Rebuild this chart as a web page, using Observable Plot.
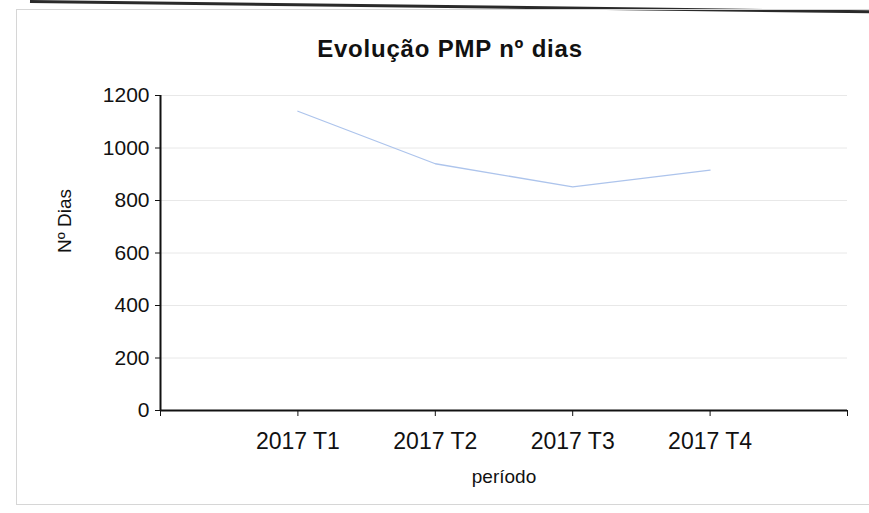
<!DOCTYPE html>
<html>
<head>
<meta charset="utf-8">
<script src="https://cdn.jsdelivr.net/npm/d3@7"></script>
<script src="https://cdn.jsdelivr.net/npm/@observablehq/plot@0.6"></script>
<style>
  html, body { margin: 0; padding: 0; background: #fff; }
  #wrap { position: relative; width: 869px; height: 513px; overflow: hidden; font-family: "Liberation Sans", Arial, sans-serif; }
  #frame { position: absolute; left: 16px; top: 9px; width: 860px; height: 494px; border: 1px solid #d6d6d6; pointer-events: none; }
  #scanedge { position: absolute; left: 30px; top: 0px; width: 850px; height: 3px; background: #2a2a2a; transform-origin: 0 0; transform: rotate(0.7deg); }
  #titlebox { position: relative; height: 78px; }
  #title { position: absolute; top: 37px; left: 450px; transform: translateX(-50%); font-size: 24px; line-height: 24px; font-weight: bold; letter-spacing: 0.8px; white-space: nowrap; color: #111; }
  svg { display: block; }
</style>
</head>
<body>
<div id="wrap">
  <div id="scanedge"></div>
  <div id="frame"></div>
  <div id="titlebox"><div id="title">Evolução PMP nº dias</div></div>
  <div id="chart"></div>
</div>
<script>
const periods = ["2017 T1", "2017 T2", "2017 T3", "2017 T4"];
const pmpDays = [1140, 940, 852, 916];
const yTicks = [0, 200, 400, 600, 800, 1000, 1200];
const xTickPositions = [0, 1, 2, 3, 4, 5];

const data = periods.map((p, k) => ({pos: k + 1, period: p, days: pmpDays[k]}));

const chart = Plot.plot({
  width: 869,
  height: 435,
  marginLeft: 160,
  marginRight: 22,
  marginTop: 17,
  marginBottom: 103,
  style: {fontFamily: "'Liberation Sans', Arial, sans-serif", background: "transparent", color: "#111"},
  x: {type: "linear", domain: [0, 5]},
  y: {domain: [0, 1200]},
  marks: [
    Plot.gridY(yTicks, {stroke: "#e8e8e8", strokeOpacity: 1}),
    Plot.axisY(yTicks, {tickSize: 5, tickPadding: 6, fontSize: 21, label: null, tickFormat: d => String(d)}),
    Plot.axisX(xTickPositions, {tickSize: 6, tickPadding: 16, fontSize: 23, label: null,
      tickFormat: i => periods[i - 1] ?? ""}),
    Plot.ruleY([0], {stroke: "#111", strokeWidth: 2}),
    Plot.ruleX([0], {stroke: "#111", strokeWidth: 2}),
    Plot.line(data, {x: "pos", y: "days", stroke: "#adc4ec", strokeWidth: 1.3}),
    Plot.text(["Nº Dias"], {frameAnchor: "left", dx: -96, rotate: -90, fontSize: 19, fill: "#111"}),
    Plot.text(["período"], {frameAnchor: "bottom", dy: 72, fontSize: 19, fill: "#111"})
  ]
});
document.getElementById("chart").appendChild(chart);
</script>
</body>
</html>
